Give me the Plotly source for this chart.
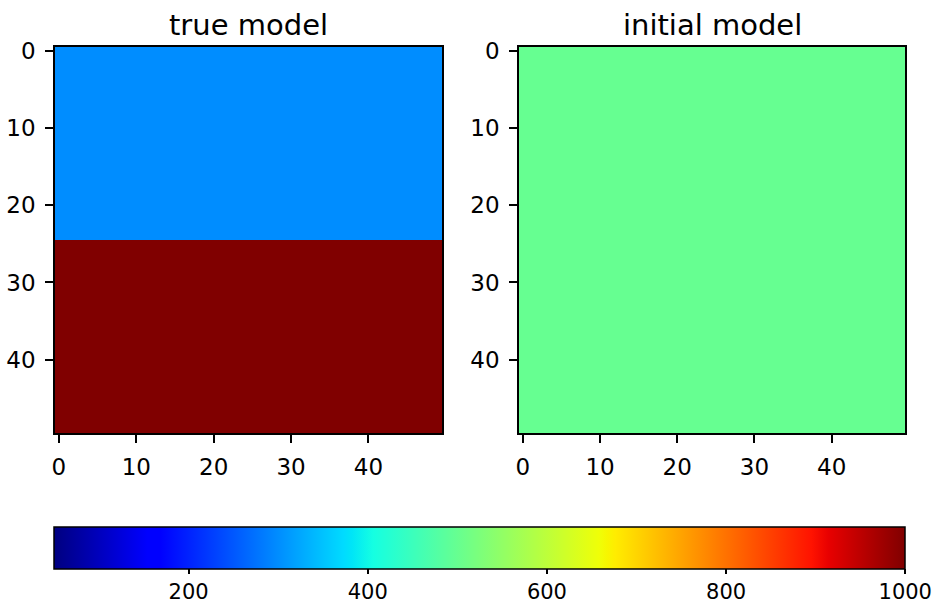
import numpy as np
import plotly.graph_objects as go

# Model grid and velocities
nx = 50
nz = 50
interface_row = 25          # first row of the lower layer
upper_velocity = 300
lower_velocity = 1000
initial_velocity = 500
color_min = 50
color_max = 1000
x_ticks = [0, 10, 20, 30, 40]
y_ticks = [0, 10, 20, 30, 40]
cbar_ticks = [200, 400, 600, 800, 1000]
titles = ["true model", "initial model"]

true_model = np.full((nz, nx), float(upper_velocity))
true_model[interface_row:, :] = lower_velocity
initial_model = np.full((nz, nx), float(initial_velocity))

# matplotlib "jet" segment data, converted to a plotly colorscale
seg = {
    "r": [(0, 0), (0.35, 0), (0.66, 1), (0.89, 1), (1, 0.5)],
    "g": [(0, 0), (0.125, 0), (0.375, 1), (0.64, 1), (0.91, 0), (1, 0)],
    "b": [(0, 0.5), (0.11, 1), (0.34, 1), (0.65, 0), (1, 0)],
}
stops = sorted({p for ch in seg.values() for p, _ in ch})
jet = []
for s in stops:
    rgb = [np.interp(s, [p for p, _ in seg[c]], [v for _, v in seg[c]]) for c in "rgb"]
    jet.append([s, "rgb(%d,%d,%d)" % tuple(round(255 * v) for v in rgb)])

W, H = 937, 607
font = "DejaVu Sans"
tick_size = 23

fig = go.Figure()
xs = list(range(nx))
zs = list(range(nz))
fig.add_trace(go.Heatmap(z=true_model, x=xs, y=zs, coloraxis="coloraxis",
                         xaxis="x", yaxis="y", hoverinfo="skip"))
fig.add_trace(go.Heatmap(z=initial_model, x=xs, y=zs, coloraxis="coloraxis",
                         xaxis="x2", yaxis="y2", hoverinfo="skip"))

ax_top, ax_bot = 47, 433
panels = [(55, 442), (519, 905)]

def ax_common():
    return dict(showline=True, mirror=True, linecolor="black", linewidth=1.5,
                ticks="outside", ticklen=8, tickwidth=1.5, tickcolor="black",
                showgrid=False, zeroline=False, automargin=False,
                tickfont=dict(family=font, size=tick_size, color="black"),
                ticklabelstandoff=5)

layout = dict(
    width=W, height=H, margin=dict(l=0, r=0, t=0, b=0, autoexpand=False),
    paper_bgcolor="white", plot_bgcolor="white",
    showlegend=False,
    coloraxis=dict(
        colorscale=jet, cmin=color_min, cmax=color_max,
        colorbar=dict(
            orientation="h", lenmode="pixels", len=851, thickness=42,
            x=(54.5 + 905) / 2 / W, xanchor="center",
            y=1 - 527 / H, yanchor="top", xpad=0, ypad=0,
            outlinewidth=1.5, outlinecolor="black",
            tickvals=cbar_ticks, ticks="outside", ticklen=5, tickwidth=1.5,
            tickcolor="black",
            tickfont=dict(family=font, size=21, color="black"),
        ),
    ),
)
for i, (x0, x1) in enumerate(panels):
    sfx = "" if i == 0 else str(i + 1)
    layout["xaxis" + sfx] = dict(domain=[x0 / W, x1 / W], range=[-0.5, nx - 0.5],
                                 tickvals=x_ticks, anchor="y" + sfx, **ax_common())
    layout["yaxis" + sfx] = dict(domain=[1 - ax_bot / H, 1 - ax_top / H],
                                 range=[nz - 0.5, -0.5], tickvals=y_ticks,
                                 anchor="x" + sfx, **ax_common())

fig.update_layout(**layout)

for (x0, x1), t in zip(panels, titles):
    fig.add_annotation(text=t, x=(x0 + x1) / 2 / W, y=1 - 44 / H,
                       xref="paper", yref="paper", xanchor="center",
                       yanchor="bottom", showarrow=False,
                       font=dict(family=font, size=29, color="black"))

fig.write_html("out.html")
